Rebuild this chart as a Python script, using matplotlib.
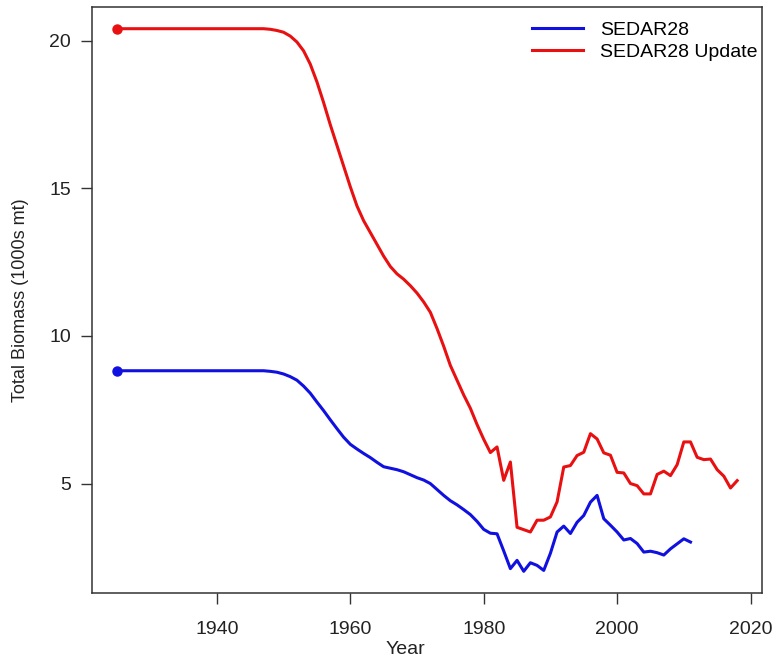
import matplotlib

matplotlib.use('Agg')

import matplotlib.pyplot as plt

plt.rcParams['font.family'] = ['Liberation Sans', 'DejaVu Sans']

# years
anos_sedar = list(range(1925, 2012))
anos_update = list(range(1925, 2019))

# SEDAR28 total biomass (1000s mt), 1925-2011
sedar28 = [8.82] * 22 + [
    8.82, 8.80, 8.77, 8.71, 8.62, 8.50, 8.30, 8.06, 7.76, 7.47,
    7.16, 6.86, 6.57, 6.33, 6.17, 6.02, 5.88, 5.72, 5.57, 5.52,
    5.47, 5.40, 5.30, 5.20, 5.12, 5.00, 4.80, 4.60, 4.42, 4.28,
    4.12, 3.95, 3.72, 3.45, 3.32, 3.30, 2.72, 2.12, 2.40, 2.03,
    2.32, 2.23, 2.06, 2.64, 3.36, 3.56, 3.31, 3.69, 3.92, 4.37,
    4.60, 3.81, 3.59, 3.36, 3.09, 3.14, 2.97, 2.68, 2.71, 2.66,
    2.58, 2.79, 2.96, 3.13, 3.02]

# SEDAR28 Update total biomass (1000s mt), 1925-2018
sedar28_update = [20.40] * 22 + [
    20.40, 20.38, 20.34, 20.28, 20.15, 19.95, 19.65, 19.20, 18.60, 17.90,
    17.15, 16.45, 15.75, 15.05, 14.40, 13.90, 13.50, 13.10, 12.70, 12.35,
    12.10, 11.92, 11.70, 11.45, 11.15, 10.80, 10.25, 9.65, 9.00, 8.50,
    8.00, 7.55, 7.00, 6.50, 6.05, 6.24, 5.11, 5.73, 3.52, 3.44,
    3.36, 3.76, 3.76, 3.87, 4.38, 5.56, 5.61, 5.95, 6.06, 6.69,
    6.51, 6.04, 5.96, 5.38, 5.36, 5.00, 4.93, 4.65, 4.65, 5.31,
    5.42, 5.27, 5.64, 6.41, 6.41, 5.89, 5.81, 5.83, 5.47, 5.25,
    4.85, 5.10]

nomes = ['SEDAR28', 'SEDAR28 Update']
cores = ['#1010e0', '#e81010']

W, H = 776, 664
fig = plt.figure(figsize=(W / 100, H / 100), dpi=100)
ax = fig.add_axes([92 / W, 1 - 593 / H, (762 - 92) / W, (593 - 7) / H])

ax.plot(anos_sedar, sedar28, color=cores[0], lw=2.2, label=nomes[0])
ax.plot(anos_update, sedar28_update, color=cores[1], lw=2.2, label=nomes[1])
ax.plot(anos_sedar[0], sedar28[0], 'o', color=cores[0], ms=6.5)
ax.plot(anos_update[0], sedar28_update[0], 'o', color=cores[1], ms=6.5)

# R style axis ranges (4% padding)
xmin, xmax = 1925, 2018
ymin, ymax = min(sedar28), max(sedar28_update)
ax.set_xlim(xmin - 0.04 * (xmax - xmin), xmax + 0.04 * (xmax - xmin))
ax.set_ylim(ymin - 0.04 * (ymax - ymin), ymax + 0.04 * (ymax - ymin))

ax.set_xticks([1940, 1960, 1980, 2000, 2020])
ax.set_yticks([5, 10, 15, 20])
ax.tick_params(direction='out', length=8, width=1, color='#333333',
               labelsize=14, labelcolor='#222222')
ax.tick_params(axis='x', pad=12)
ax.tick_params(axis='y', pad=7)
for s in ax.spines.values():
    s.set_color('#333333')
    s.set_linewidth(1.1)

ax.set_xlabel('Year', fontsize=14, color='#222222')
ax.xaxis.set_label_coords((405 - 92) / (762 - 92), -(641 - 593) / (593 - 7))
ax.set_ylabel('Total Biomass (1000s mt)', fontsize=13, color='#222222')
ax.yaxis.set_label_coords(-(92 - 29) / (762 - 92), 0.5)

ax.legend(loc='upper left', bbox_to_anchor=(532 / W, 1 - 21 / H),
          bbox_transform=fig.transFigure, frameon=False, fontsize=14,
          handlelength=2.6, handletextpad=0.9, labelspacing=0.25,
          borderpad=0, borderaxespad=0)

fig.savefig('out.png', dpi=100)
